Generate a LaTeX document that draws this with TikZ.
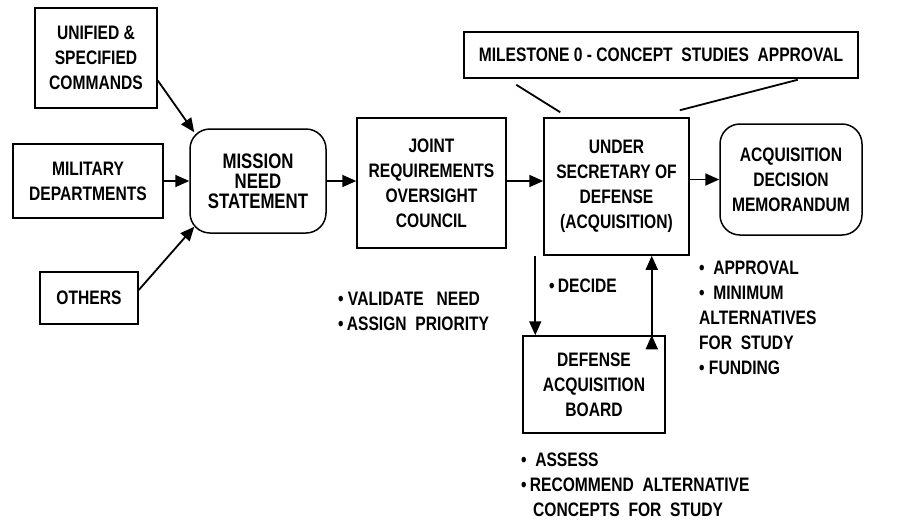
\documentclass[tikz,border=0pt]{standalone}
\usepackage{fontspec}
\setmainfont{Liberation Sans}[FakeStretch=0.80]
\usetikzlibrary{arrows.meta, positioning}

\begin{document}
\begin{tikzpicture}[x=1pt, y=-1pt]
	% Setup the styles for the boxes, lists and arrows
	\tikzset{box style/.style={draw, line width=1.5pt, inner sep=0pt, align=center,
			font=\bfseries\fontsize{19.5}{25}\selectfont},
		round style/.style={box style, rounded corners=20pt},
		list style/.style={inner sep=0pt, align=left, anchor=north west,
			font=\bfseries\fontsize{19.5}{25}\selectfont},
		arrow style/.style={line width=1.8pt, -{Triangle[length=14pt, width=12pt]}}}
	
	\useasboundingbox (0,0) rectangle (911,523);
	
	\node[box style, minimum width=122, minimum height=100] (unified) at (96,58) {UNIFIED \&\\SPECIFIED\\COMMANDS};
	\node[box style, minimum width=150, minimum height=74] (military) at (88,181) {MILITARY\\DEPARTMENTS};
	\node[box style, minimum width=98, minimum height=52] (others) at (89,298) {OTHERS};
	\node[round style, minimum width=136, minimum height=104,
		font=\bfseries\fontsize{21}{20}\selectfont] (mission) at (258,181) {MISSION\\NEED\\STATEMENT};
	\node[box style, minimum width=149, minimum height=130] (joint) at (431.5,183) {JOINT\\REQUIREMENTS\\OVERSIGHT\\COUNCIL};
	\node[box style, minimum width=145, minimum height=137] (usd) at (616.5,186.5) {UNDER\\SECRETARY OF\\DEFENSE\\(ACQUISITION)};
	\node[round style, minimum width=142, minimum height=111] (adm) at (791,179.5) {ACQUISITION\\DECISION\\MEMORANDUM};
	\node[box style, minimum width=394, minimum height=46] (milestone) at (661,55) {MILESTONE 0 - CONCEPT\ \ STUDIES\ \ APPROVAL};
	\node[box style, minimum width=142, minimum height=97] (dab) at (594,384.5) {DEFENSE\\ACQUISITION\\BOARD};
	
	% Lists of tasks
	\node[list style] (validate) at (338,292) {\textbullet\ VALIDATE\ \ \ NEED\\\textbullet\,ASSIGN\ \ PRIORITY};
	\node[list style, anchor=west] (decide) at (549,286) {\textbullet\,DECIDE};
	\node[list style] (approval) at (699,261) {\textbullet\ \ APPROVAL\\\textbullet\ \ MINIMUM\\ALTERNATIVES\\FOR\ \ STUDY\\\textbullet\ FUNDING};
	\node[list style] (assess) at (521,453) {\textbullet\ \ ASSESS\\\textbullet\,RECOMMEND\ \ ALTERNATIVE\\\hspace*{12pt}CONCEPTS\ \ FOR\ \ STUDY};
	
	\coordinate (decide in) at ([xshift=13]dab.north west);
	\coordinate (decide out) at ([xshift=-14]dab.north east);
	
	\draw[arrow style]
	(unified.-20)            edge ([shift={(5,4)}]mission.north west)
	(military.east)          edge (mission.west |- military.east)
	([yshift=8]others.east)  edge ([shift={(5,-7)}]mission.south west)
	(mission.east)           edge (joint.west |- mission.east)
	(joint.east |- mission.east) edge (usd.west |- mission.east)
	(usd.east |- adm.west)   edge (adm.west)
	(usd.south -| decide in) edge (decide in)
	(decide out)             edge (usd.south -| decide out);
	
	% Milestone pointers
	\draw[line width=1.8pt]
	([shift={(53,6)}]milestone.south west) -- ([shift={(17,-5)}]usd.north west)
	([shift={(-61,1)}]milestone.south east) -- ([shift={(-10,-7)}]usd.north east);
\end{tikzpicture}
\end{document}
